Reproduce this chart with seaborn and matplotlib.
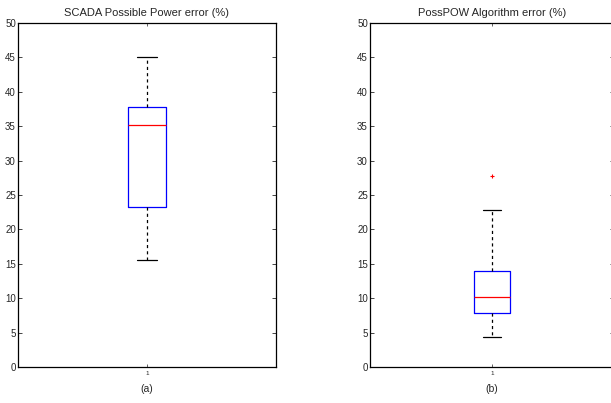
import matplotlib
matplotlib.use("Agg")
import matplotlib.pyplot as plt
import seaborn as sns
import pandas as pd

sns.set_style("white")
plt.rcParams['font.family'] = ['Liberation Sans', 'DejaVu Sans']

# Data (sample values chosen to reproduce the read box statistics)
scada_error = [15.5, 23.2, 35.2, 37.8, 45.0]
posspow_error = [4.3, 6.0, 7.8, 9.0, 10.2, 12.0, 14.0, 22.8, 27.8]
titles = ["SCADA Possible Power error (%)", "PossPOW Algorithm error (%)"]
xlabels = ["(a)", "(b)"]
yticks = [0, 5, 10, 15, 20, 25, 30, 35, 40, 45, 50]

fig = plt.figure(figsize=(6.11, 4.03), dpi=100)
ax1 = fig.add_axes([18/611, 36/403, 258/611, 344/403])
ax2 = fig.add_axes([370/611, 36/403, 244/611, 344/403])

for ax, vals, title, xl in zip([ax1, ax2], [scada_error, posspow_error], titles, xlabels):
    df = pd.DataFrame({"g": ["1"] * len(vals), "v": vals})
    sns.boxplot(data=df, x="g", y="v", ax=ax, width=0.151, fill=False,
                linewidth=0.9, capwidths=0.074,
                boxprops=dict(color="blue"),
                medianprops=dict(color="red"),
                whiskerprops=dict(color="black", linestyle=(0, (2.5, 2.5))),
                capprops=dict(color="black"),
                flierprops=dict(marker="+", markeredgecolor="red", markersize=3,
                                markeredgewidth=0.8))
    ax.set_xlim(-0.5, 0.5)
    ax.set_ylim(0, 50)
    ax.set_yticks(yticks)
    ax.set_title(title, fontsize=8, pad=5)
    ax.set_xlabel(xl, fontsize=7.5, labelpad=6)
    ax.set_ylabel("")
    ax.tick_params(axis="y", direction="in", length=3, width=0.6, labelsize=7,
                   pad=1.5, left=True, right=True)
    ax.tick_params(axis="x", direction="in", length=2, width=0.5, labelsize=4.5,
                   pad=3, bottom=True, top=True)
    for s in ax.spines.values():
        s.set_visible(True)
        s.set_color("black")
        s.set_linewidth(0.9)

fig.savefig("out.png", dpi=100, facecolor="white")
